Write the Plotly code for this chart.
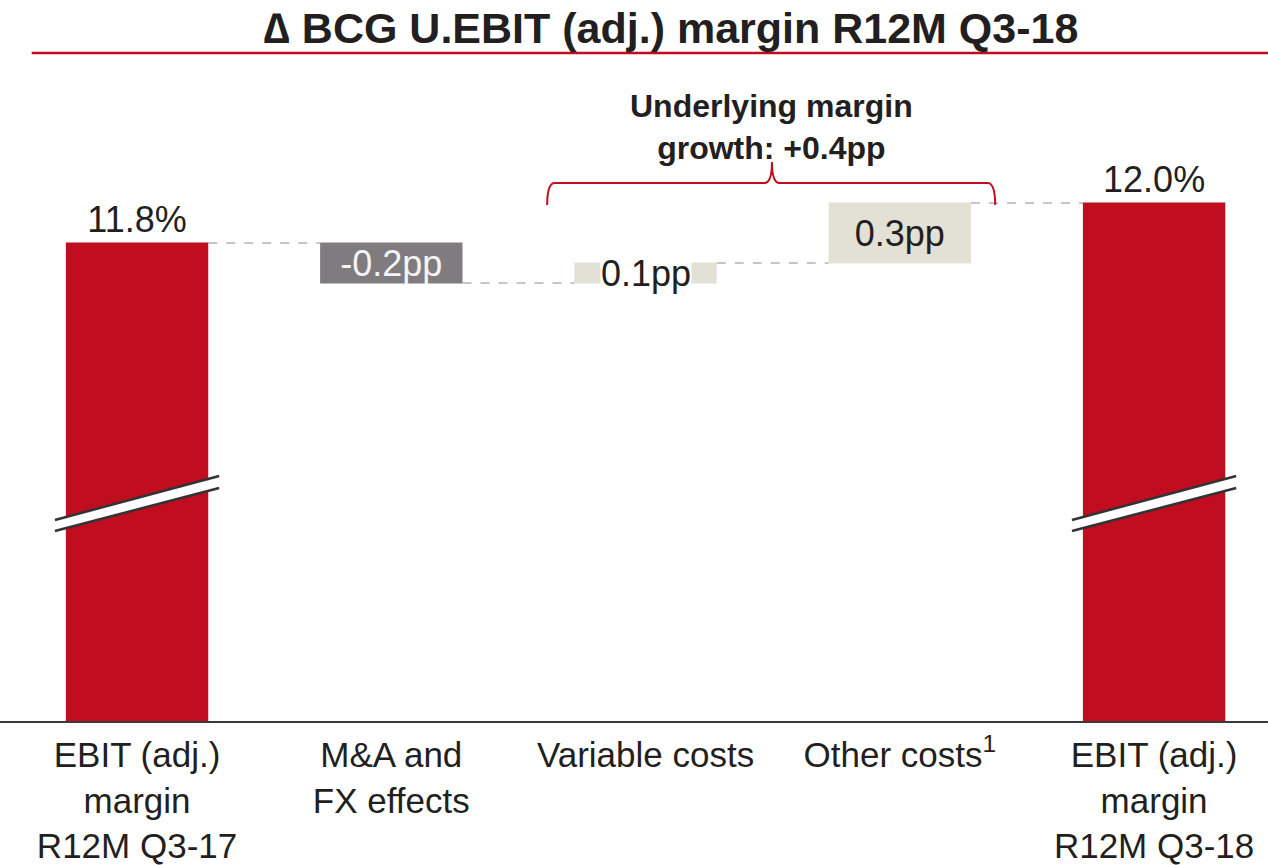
import plotly.graph_objects as go

# waterfall data
categories = ["EBIT (adj.)<br>margin<br>R12M Q3-17", "M&A and<br>FX effects", "Variable costs",
              "Other costs<sup>1</sup>", "EBIT (adj.)<br>margin<br>R12M Q3-18"]
measures = ["absolute", "relative", "relative", "relative", "total"]
values = [11.8, -0.2, 0.1, 0.3, 12.0]
labels = ["11.8%", "-0.2pp", "0.1pp", "0.3pp", "12.0%"]

RED = "#C00D1F"
GREY = "#7F7B7E"
BEIGE = "#E3E1D6"
DARK = "#231F20"
FONT = "Liberation Sans, Arial, sans-serif"

x = list(range(len(categories)))

# running totals, used to place the label of the tiny bar
tops = []
run = 0
for m, v in zip(measures, values):
    if m == "absolute":
        run = v
    elif m == "relative":
        run += v
    tops.append(run)

fig = go.Figure()
fig.add_trace(go.Waterfall(
    x=x, y=values, measure=measures,
    width=0.56,
    text=[labels[0], labels[1], " ", labels[3], labels[4]],
    textposition=["outside", "inside", "none", "inside", "outside"],
    insidetextanchor="middle",
    constraintext="none",
    textfont=dict(size=36, family=FONT, color=[DARK, "#F4F4F4", DARK, DARK, DARK]),
    increasing=dict(marker=dict(color=BEIGE)),
    decreasing=dict(marker=dict(color=GREY)),
    totals=dict(marker=dict(color=RED)),
    connector=dict(mode="between", line=dict(color="#8C8C8C", width=1, dash="dash")),
    cliponaxis=False,
    hoverinfo="skip",
))

# label of the 0.1pp step sits over the bar on a white box
fig.add_annotation(x=2, y=(tops[1] + tops[2]) / 2, text=labels[2], showarrow=False,
                   bgcolor="white", borderpad=0,
                   font=dict(size=36, family=FONT, color=DARK))

# axis-break marks on the two total bars
shapes = []
for i in [0, 4]:
    x0, x1 = i - 0.323, i + 0.323
    shapes.append(dict(type="path", xref="x", yref="y",
                       path=f"M {x0},10.415 L {x1},10.635 L {x1},10.575 L {x0},10.36 Z",
                       fillcolor="white", line=dict(width=0)))
    shapes.append(dict(type="line", xref="x", yref="y", x0=x0, y0=10.415, x1=x1, y1=10.635,
                       line=dict(color="#333333", width=2.5)))
    shapes.append(dict(type="line", xref="x", yref="y", x0=x0, y0=10.36, x1=x1, y1=10.575,
                       line=dict(color="#333333", width=2.5)))

# brace over the underlying-growth steps
bx0, bx1, bxc = 1.613, 3.375, 2.497
yb, ym, yt = 11.99, 12.1, 12.205
d = 0.03
shapes.append(dict(type="path", xref="x", yref="y",
                   path=(f"M {bx0},{yb} Q {bx0},{ym} {bx0 + d},{ym} L {bxc - d},{ym} "
                         f"Q {bxc},{ym} {bxc},{yt} Q {bxc},{ym} {bxc + d},{ym} "
                         f"L {bx1 - d},{ym} Q {bx1},{ym} {bx1},{yb}"),
                   line=dict(color=RED, width=2)))

# red rule under the title
shapes.append(dict(type="line", xref="paper", yref="paper", x0=0.025, x1=1, y0=1.0106, y1=1.0106,
                   line=dict(color=RED, width=2.5)))

fig.add_annotation(x=bxc, y=12.38, text="<b>Underlying margin<br>growth: +0.4pp</b>",
                   showarrow=False, font=dict(size=32, family=FONT, color=DARK))

fig.update_layout(
    width=1268, height=865,
    margin=dict(l=0, r=0, t=60, b=144, autoexpand=False),
    paper_bgcolor="white", plot_bgcolor="white",
    showlegend=False,
    shapes=shapes,
    title=dict(text="<b>\u2206 BCG U.EBIT (adj.) margin R12M Q3-18</b>",
               x=671 / 1268, xanchor="center", y=1 - 28 / 865, yanchor="middle",
               font=dict(size=43, family=FONT, color=DARK)),
    xaxis=dict(range=[-0.539, 4.448], tickvals=x, ticktext=categories, automargin=False,
               tickfont=dict(size=35, family=FONT, color=DARK), ticklabelstandoff=2,
               showline=True, linecolor="#3A3A3A", linewidth=2,
               showgrid=False, zeroline=False, ticks=""),
    yaxis=dict(range=[9.41, 12.715], visible=False, showgrid=False, zeroline=False,
               automargin=False),
)

fig.write_html("out.html", config={"displayModeBar": False},
               post_script="document.body.style.margin='0';")
